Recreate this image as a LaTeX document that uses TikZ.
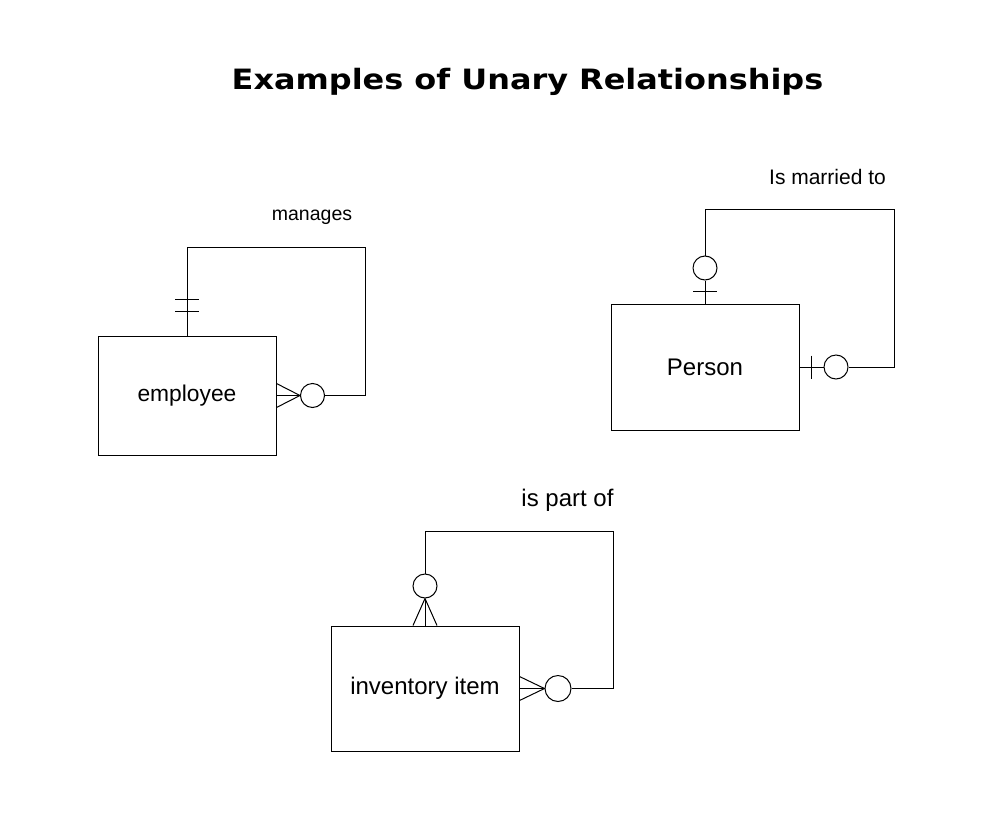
\documentclass[tikz,border=0pt]{standalone}
\usepackage{fontspec}
\setmainfont{Liberation Sans}
\newfontfamily\titlefont{DejaVu Sans}[FakeStretch=1.14]
\tikzset{
	entity/.style={draw, line width=1pt, inner sep=0pt},
	optcircle/.style={draw, circle, line width=1pt, minimum size=24pt, inner sep=0pt},
	link/.style={line width=1pt},
	relname/.style={inner sep=0pt}
}
\begin{document}
\begin{tikzpicture}[x=1pt, y=-1pt]
			\useasboundingbox (0,0) rectangle (1008,816);
			\node[anchor=base] (title) at (527.5,89.5) {\titlefont\bfseries\fontsize{28}{32}\selectfont Examples of Unary Relationships};
			% employee manages
			\node[entity, minimum width=178pt, minimum height=119pt] (employee) at (187,395.5) {\fontsize{22.8}{26}\selectfont employee};
			\node[optcircle] (empC) at (312.5,395.5) {};
			\coordinate (empA) at (187,247);
			\coordinate (empB) at (365,247);
			\coordinate (empD) at (365,395.5);
			\draw [link] (employee.north) -- (empA) -- (empB) -- (empD) -- (empC.east);
			\foreach \d in {-12,0,12}{
				\draw [link] (empC.west) -- ([yshift=\d pt]employee.east);
			}
			\foreach \d in {24,36}{
				\draw [link] ([xshift=-12pt,yshift=\d pt]employee.north) -- ++(24,0);
			}
			\node[relname] (manages) at (312,217) {\fontsize{19.5}{23}\selectfont manages};
			% person is married to
			\node[entity, minimum width=188pt, minimum height=126pt] (person) at (705,367) {\fontsize{24}{28}\selectfont Person};
			\node[optcircle] (perT) at (705,268) {};
			\node[optcircle] (perR) at (836,367) {};
			\coordinate (perA) at (705,209);
			\coordinate (perB) at (894,209);
			\coordinate (perD) at (894,367);
			\draw [link] (perT.north) -- (perA) -- (perB) -- (perD) -- (perR.east);
			\draw [link] (person.north) -- (perT.south);
			\draw [link] (person.east) -- (perR.west);
			\draw [link] ([xshift=-12pt,yshift=12pt]person.north) -- ++(24,0);
			\draw [link] ([xshift=12pt,yshift=11.5pt]person.east) -- ++(0,23);
			\node[relname] (married) at (827.5,177) {\fontsize{21}{25}\selectfont Is married to};
			% inventory item is part of
			\node[entity, minimum width=188pt, minimum height=125pt] (item) at (425,688.5) {\fontsize{24}{28}\selectfont inventory item};
			\node[optcircle] (itmT) at (425,586) {};
			\node[optcircle, minimum size=26pt] (itmR) at (558,688.5) {};
			\coordinate (itmA) at (425,531);
			\coordinate (itmB) at (613,531);
			\coordinate (itmD) at (613,688.5);
			\draw [link] (itmT.north) -- (itmA) -- (itmB) -- (itmD) -- (itmR.east);
			\foreach \d in {-12,0,12}{
				\draw [link] (itmR.west) -- ([yshift=\d pt]item.east);
				\draw [link] (itmT.south) -- ([xshift=\d pt]item.north);
			}
			\node[relname] (partof) at (567.5,500) {\fontsize{24}{28}\selectfont is part of};
\end{tikzpicture}
\end{document}
